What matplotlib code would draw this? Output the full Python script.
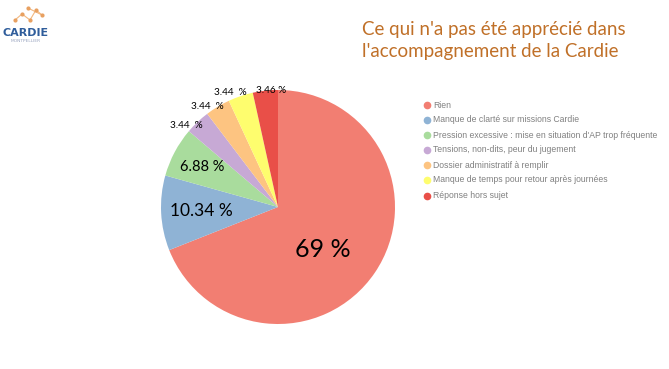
import numpy as np
import matplotlib
matplotlib.use("Agg")
import matplotlib.pyplot as plt
from matplotlib.lines import Line2D

categories = [
    "Rien",
    "Manque de clarté sur missions Cardie",
    "Pression excessive : mise en situation d'AP trop fréquente",
    "Tensions, non-dits, peur du jugement",
    "Dossier administratif à remplir",
    "Manque de temps pour retour après journées",
    "Réponse hors sujet",
]
values = [69, 10.34, 6.88, 3.44, 3.44, 3.44, 3.46]
value_labels = ["69 %", "10.34 %", "6.88 %", "3.44  %", "3.44  %", "3.44  %", "3.46 %"]
colors = ["#F27E72", "#8FB3D5", "#A9DC9D", "#C7A9D5", "#FDC481", "#FEFD6E", "#E94F48"]
label_dist = [0.53, 0.66, 0.73, 1.05, 1.05, 1.06, 1.00]
label_rot = [-9, 0, 0, 5, 4, 4, -3]
label_size = [18, 12.5, 10.5, 7.2, 7.2, 7.2, 7.2]

W, H = 669, 369
fig = plt.figure(figsize=(W / 100, H / 100), dpi=100)
fig.patch.set_facecolor("white")

cx, cy, r = 278, 207, 117
ax = fig.add_axes([(cx - r) / W, (H - cy - r) / H, 2 * r / W, 2 * r / H])
wedges, _ = ax.pie(values, colors=colors, startangle=90, counterclock=False,
                   radius=1.0, wedgeprops=dict(linewidth=0))
ax.set_xlim(-1, 1)
ax.set_ylim(-1, 1)
ax.set_aspect("equal")
ax.axis("off")

for w, lab, d, rot, fs in zip(wedges, value_labels, label_dist, label_rot, label_size):
    ang = np.deg2rad((w.theta1 + w.theta2) / 2 + rot)
    ax.text(d * np.cos(ang), d * np.sin(ang), lab, ha="center", va="center",
            fontsize=fs, family="Lato", color="black", clip_on=False)

# Title
fig.text(362 / W, 1 - 30 / H, "Ce qui n'a pas été apprécié dans", fontsize=13.5,
         family="Lato", color="#C07028", ha="left", va="center")
fig.text(362 / W, 1 - 52 / H, "l'accompagnement de la Cardie", fontsize=13.5,
         family="Lato", color="#C07028", ha="left", va="center")

# Legend
ys = [105, 120, 135, 150, 165, 180, 196]
for y, c, lab in zip(ys, colors, categories):
    fig.add_artist(Line2D([427 / W], [1 - y / H], marker="o", markersize=4.5,
                          color=c, linestyle="none"))
    fig.text(433 / W, 1 - y / H, lab, fontsize=6.2, family="Liberation Sans",
             color="#808080", ha="left", va="center")

# Logo
fig.text(26 / W, 1 - 33 / H, "CARDIE", fontsize=8, family="DejaVu Sans",
         weight="bold", color="#2F5D9B", ha="center", va="center")
fig.text(26 / W, 1 - 41 / H, "MONTPELLIER", fontsize=3.2, family="DejaVu Sans",
         color="#9AA5C0", ha="center", va="center")
pts = [(15, 20), (22, 14), (30, 20), (36, 10), (42, 15), (28, 8)]
for (x1, y1), (x2, y2) in zip(pts[:-1], pts[1:]):
    fig.add_artist(Line2D([x1 / W, x2 / W], [1 - y1 / H, 1 - y2 / H],
                          color="#F2B880", linewidth=0.8))
for x, y in pts:
    fig.add_artist(Line2D([x / W], [1 - y / H], marker="o", markersize=2,
                          color="#E8A060", linestyle="none"))

fig.savefig("out.png", dpi=100, facecolor="white")
